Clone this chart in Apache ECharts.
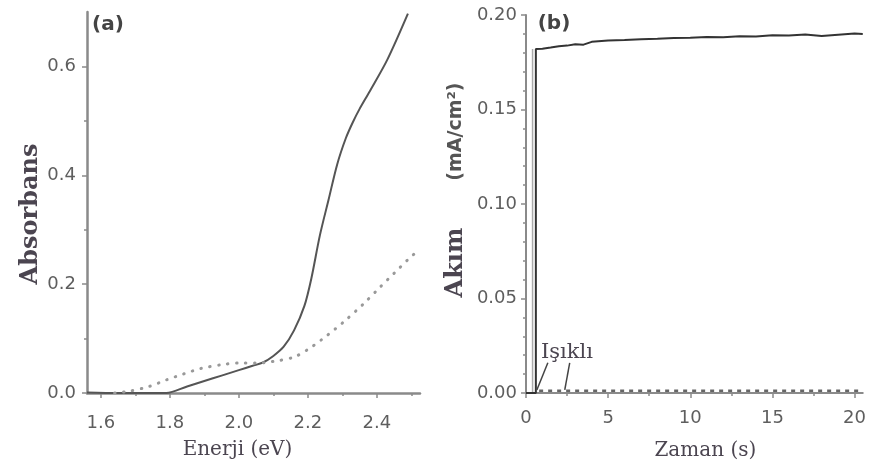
<!DOCTYPE html>
<html>
<head>
<meta charset="utf-8">
<script src="https://cdn.jsdelivr.net/npm/echarts@6/dist/echarts.min.js"></script>
<style>
  html, body { margin: 0; padding: 0; background: #fff; }
  #chart { width: 869px; height: 471px; }
</style>
</head>
<body>
<div id="chart"></div>
<script>
// panel (a) - absorbance vs energy
const energySolid = [1.56, 1.65, 1.72, 1.79, 1.85, 1.9, 1.95, 2.0, 2.04, 2.07, 2.1, 2.13, 2.16, 2.19, 2.21, 2.235, 2.26, 2.285, 2.31, 2.33, 2.35, 2.38, 2.43, 2.49];
const absSolid = [0.001, 0.0, 0.0, 0.0, 0.012, 0.022, 0.032, 0.042, 0.05, 0.056, 0.068, 0.085, 0.115, 0.16, 0.21, 0.29, 0.355, 0.42, 0.468, 0.497, 0.522, 0.555, 0.612, 0.697];
const energyDotted = [1.64, 1.68, 1.74, 1.79, 1.84, 1.89, 1.95, 2.0, 2.05, 2.1, 2.16, 2.2, 2.24, 2.28, 2.31, 2.36, 2.41, 2.45, 2.49, 2.52];
const absDotted = [0.0, 0.003, 0.012, 0.024, 0.035, 0.045, 0.052, 0.055, 0.055, 0.058, 0.066, 0.08, 0.098, 0.118, 0.134, 0.163, 0.195, 0.22, 0.245, 0.262];
const energyTicks = [1.6, 1.8, 2.0, 2.2, 2.4];
const energyMinor = [1.7, 1.9, 2.1, 2.3, 2.5];
const absTicks = [0, 0.2, 0.4, 0.6];
const absMinor = [0.1, 0.3, 0.5];

// panel (b) - current vs time
const timeLight = [0, 0.6, 0.6, 1, 1.5, 2, 2.5, 3, 3.5, 4, 5, 6, 7, 8, 9, 10, 11, 12, 13, 14, 15, 16, 17, 18, 19, 20, 20.5];
const currentLight = [0, 0, 0.182, 0.1822, 0.1828, 0.1835, 0.1838, 0.1845, 0.1843, 0.1858, 0.1865, 0.1868, 0.1872, 0.1874, 0.1878, 0.188, 0.1883, 0.1882, 0.1888, 0.1886, 0.1893, 0.1891, 0.1897, 0.1889, 0.1896, 0.1902, 0.19];
const timeEdge = [0.4, 0.4];
const currentEdge = [0, 0.182];
const timeDark = [0.8, 20.5];
const currentDark = [0.0012, 0.0012];
const timeTicks = [0, 5, 10, 15, 20];
const timeMinor = [2.5, 7.5, 12.5, 17.5];

function pairs(xs, ys) {
  return xs.map((x, i) => [x, ys[i]]);
}

const axisGray = "#8a8a8a";
const labelStyle = { color: "#5e5e5e", fontFamily: "DejaVu Sans", fontSize: 18 };
const titleColor = "#4b4550";

function minorAxis(gridIndex, position, min, max, values) {
  return {
    type: "value", gridIndex, position, min, max,
    axisLine: { show: false },
    splitLine: { show: false },
    axisLabel: { show: false },
    axisTick: { show: true, customValues: values, length: 3, lineStyle: { color: axisGray, width: 1.5 } }
  };
}

const options = {
  animation: false,
  backgroundColor: "#fff",
  grid: [
    { left: 87, top: 12, width: 333, height: 381 },
    { left: 526, top: 15, width: 340, height: 378 }
  ],
  xAxis: [
    {
      type: "value", gridIndex: 0, position: "bottom", min: 1.56, max: 2.525,
      axisLine: { lineStyle: { color: axisGray, width: 2.5 } },
      splitLine: { show: false },
      axisTick: { customValues: energyTicks, length: 5, lineStyle: { color: axisGray, width: 1.5 } },
      axisLabel: { ...labelStyle, customValues: energyTicks, margin: 21, formatter: v => v.toFixed(1) },
      name: "Enerji (eV)", nameLocation: "middle", nameGap: 47,
      nameTextStyle: { fontFamily: "DejaVu Serif", fontSize: 20, color: titleColor, padding: [0, 32, 0, 0] }
    },
    minorAxis(0, "bottom", 1.56, 2.525, energyMinor),
    {
      type: "value", gridIndex: 1, position: "bottom", min: 0, max: 20.5,
      axisLine: { lineStyle: { color: axisGray, width: 2 } },
      splitLine: { show: false },
      axisTick: { customValues: timeTicks, length: 5, lineStyle: { color: axisGray, width: 1.5 } },
      axisLabel: { ...labelStyle, customValues: timeTicks, margin: 16 },
      name: "Zaman (s)", nameLocation: "middle", nameGap: 48,
      nameTextStyle: { fontFamily: "DejaVu Serif", fontSize: 20, color: titleColor, padding: [0, 0, 0, 22] }
    },
    minorAxis(1, "bottom", 0, 20.5, timeMinor)
  ],
  yAxis: [
    {
      type: "value", gridIndex: 0, position: "left", min: 0, max: 0.7,
      axisLine: { show: true, lineStyle: { color: axisGray, width: 2.5 } },
      splitLine: { show: false },
      axisTick: { show: true, customValues: absTicks, length: 5, lineStyle: { color: axisGray, width: 1.5 } },
      axisLabel: { ...labelStyle, customValues: absTicks, margin: 11, formatter: v => v.toFixed(1) },
      name: "Absorbans", nameLocation: "middle", nameRotate: 90, nameGap: 44,
      nameTextStyle: { fontFamily: "DejaVu Serif", fontWeight: "bold", fontSize: 24, color: titleColor, padding: [0, 23, 0, 0] }
    },
    minorAxis(0, "left", 0, 0.7, absMinor),
    {
      type: "value", gridIndex: 1, position: "left", min: 0, max: 0.2, interval: 0.05,
      axisLine: { show: true, lineStyle: { color: axisGray, width: 2 } },
      splitLine: { show: false },
      axisTick: { show: true, length: 5, lineStyle: { color: axisGray, width: 1.5 } },
      minorTick: { show: true, splitNumber: 5, length: 3, lineStyle: { color: axisGray, width: 1.5 } },
      axisLabel: { ...labelStyle, margin: 9, formatter: v => v.toFixed(2) },
      name: "{a|Akım}{g|}{b|(mA/cm²)}", nameLocation: "middle", nameRotate: 90, nameGap: 58,
      nameTextStyle: {
        padding: [0, 0, 0, 28],
        rich: {
          a: { fontFamily: "DejaVu Serif", fontWeight: "bold", fontSize: 24, color: titleColor },
          g: { width: 47 },
          b: { fontFamily: "DejaVu Sans", fontWeight: "bold", fontSize: 19, color: "#555" }
        }
      }
    }
  ],
  graphic: [
    { type: "text", x: 108, y: 25, style: { text: "(a)", font: "bold 20px DejaVu Sans", fill: "#444", textAlign: "center", textVerticalAlign: "middle" } },
    { type: "text", x: 554, y: 24, style: { text: "(b)", font: "bold 20px DejaVu Sans", fill: "#444", textAlign: "center", textVerticalAlign: "middle" } },
    { type: "text", x: 567, y: 353, style: { text: "Işıklı", font: "21px DejaVu Serif", fill: titleColor, textAlign: "center", textVerticalAlign: "middle" } }
  ],
  series: [
    {
      type: "line", xAxisIndex: 0, yAxisIndex: 0, symbol: "none", smooth: 0.3,
      data: pairs(energySolid, absSolid),
      lineStyle: { color: "#555", width: 2 }
    },
    {
      type: "line", xAxisIndex: 0, yAxisIndex: 0, symbol: "none", smooth: 0.3,
      data: pairs(energyDotted, absDotted),
      lineStyle: { color: "#999", width: 3, type: [0.5, 8.5], cap: "round" }
    },
    {
      type: "line", xAxisIndex: 2, yAxisIndex: 2, symbol: "none",
      data: pairs(timeEdge, currentEdge),
      lineStyle: { color: "#aaa", width: 1.5 }
    },
    {
      type: "line", xAxisIndex: 2, yAxisIndex: 2, symbol: "none",
      data: pairs(timeLight, currentLight),
      lineStyle: { color: "#333", width: 2 }
    },
    {
      type: "line", xAxisIndex: 2, yAxisIndex: 2, symbol: "none",
      data: pairs(timeDark, currentDark),
      lineStyle: { color: "#666", width: 2.5, type: [4, 5] },
      markLine: {
        symbol: "none", silent: true, label: { show: false },
        lineStyle: { color: "#444", width: 1.5, type: "solid" },
        data: [
          [{ coord: [1.33, 0.016] }, { coord: [0.66, 0.0016] }],
          [{ coord: [2.66, 0.016] }, { coord: [2.36, 0.0016] }]
        ]
      }
    }
  ]
};

const chartInstance = echarts.init(document.getElementById("chart"));
chartInstance.setOption(options);
</script>
</body>
</html>
